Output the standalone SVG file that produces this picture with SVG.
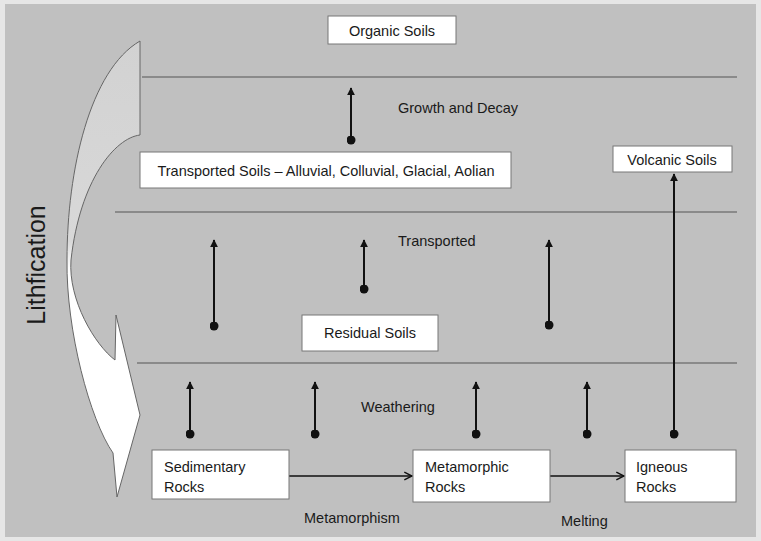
<svg xmlns="http://www.w3.org/2000/svg" width="761" height="541" viewBox="0 0 761 541">
<defs>
<style>
text{font-family:"Liberation Sans",Arial,sans-serif;font-size:14.5px;fill:#1a1a1a}
.box{fill:#fff;stroke:#777;stroke-width:1}
.band{stroke:#555;stroke-width:1}
.arr{stroke:#111;stroke-width:2;fill:none}
.flow{stroke:#111;stroke-width:1.6;fill:none}
</style>
<marker id="tip" viewBox="0 0 10 10" refX="9" refY="5" markerWidth="4" markerHeight="4" orient="auto"><path d="M0,0 L10,5 L0,10 z" fill="#111"/></marker>
<marker id="dot" viewBox="0 0 10 10" refX="5" refY="5" markerWidth="4.5" markerHeight="4.5"><circle cx="5" cy="5" r="5" fill="#111"/></marker>
<marker id="open" viewBox="0 0 10 10" refX="9" refY="5" markerWidth="6" markerHeight="6" orient="auto"><path d="M1,1 L9,5 L1,9" fill="none" stroke="#111" stroke-width="1.5"/></marker>
<linearGradient id="g" x1="0" y1="0" x2="0" y2="1"><stop offset="0" stop-color="#d2d2d2"/><stop offset="0.44" stop-color="#d8d8d8"/><stop offset="0.5" stop-color="#ffffff"/><stop offset="1" stop-color="#ffffff"/></linearGradient>
</defs>
<rect x="0" y="0" width="761" height="541" fill="#e6e6e6"/>
<rect x="5" y="4" width="751" height="533" fill="#c0c0c0"/>
<g id="lithification">
<path d="M140,41 L140,135 C115,138 80,180 71,260 C68,300 95,345 115,360 L116,315 L140,415 L117,497 L113,453 C90,420 66,330 67,260 C67,170 90,70 140,41 Z" fill="url(#g)" stroke="#666" stroke-width="1"/>
<text transform="translate(45,265) rotate(-90)" text-anchor="middle" style="font-size:25px">Lithfication</text>
</g>
<g id="bands">
<line class="band" x1="142" y1="77" x2="737" y2="77"/>
<line class="band" x1="115" y1="212" x2="737" y2="212"/>
<line class="band" x1="137" y1="363" x2="737" y2="363"/>
</g>
<g id="connectors">
<line class="arr" x1="351" y1="140" x2="351" y2="88" marker-start="url(#dot)" marker-end="url(#tip)"/>
<line class="arr" x1="214" y1="326" x2="214" y2="240" marker-start="url(#dot)" marker-end="url(#tip)"/>
<line class="arr" x1="364" y1="289" x2="364" y2="240" marker-start="url(#dot)" marker-end="url(#tip)"/>
<line class="arr" x1="549" y1="325" x2="549" y2="240" marker-start="url(#dot)" marker-end="url(#tip)"/>
<line class="arr" x1="190" y1="434" x2="190" y2="382" marker-start="url(#dot)" marker-end="url(#tip)"/>
<line class="arr" x1="315" y1="434" x2="315" y2="382" marker-start="url(#dot)" marker-end="url(#tip)"/>
<line class="arr" x1="476" y1="434" x2="476" y2="382" marker-start="url(#dot)" marker-end="url(#tip)"/>
<line class="arr" x1="587" y1="434" x2="587" y2="382" marker-start="url(#dot)" marker-end="url(#tip)"/>
<line class="arr" x1="674" y1="434" x2="674" y2="174" marker-start="url(#dot)" marker-end="url(#tip)"/>
<line class="flow" x1="289" y1="476" x2="412" y2="476" marker-end="url(#open)"/>
<line class="flow" x1="550" y1="476" x2="624" y2="476" marker-end="url(#open)"/>
</g>
<g id="labels">
<text x="398" y="113">Growth and Decay</text>
<text x="398" y="246">Transported</text>
<text x="361" y="412">Weathering</text>
<text x="304" y="523">Metamorphism</text>
<text x="561" y="526">Melting</text>
</g>
<g id="organic"><rect class="box" x="328" y="16" width="128" height="28"/><text x="392" y="36" text-anchor="middle">Organic Soils</text></g>
<g id="transported"><rect class="box" x="140" y="152" width="371" height="36"/><text x="326" y="176" text-anchor="middle">Transported Soils – Alluvial, Colluvial, Glacial, Aolian</text></g>
<g id="volcanic"><rect class="box" x="613" y="146" width="119" height="26"/><text x="672" y="165" text-anchor="middle">Volcanic Soils</text></g>
<g id="residual"><rect class="box" x="302" y="315" width="136" height="36"/><text x="370" y="338" text-anchor="middle">Residual Soils</text></g>
<g id="sedimentary"><rect class="box" x="152" y="450" width="137" height="49"/><text x="164" y="472">Sedimentary</text><text x="164" y="492">Rocks</text></g>
<g id="metamorphic"><rect class="box" x="413" y="450" width="137" height="52"/><text x="425" y="472">Metamorphic</text><text x="425" y="492">Rocks</text></g>
<g id="igneous"><rect class="box" x="625" y="450" width="111" height="52"/><text x="636" y="472">Igneous</text><text x="636" y="492">Rocks</text></g>
</svg>
